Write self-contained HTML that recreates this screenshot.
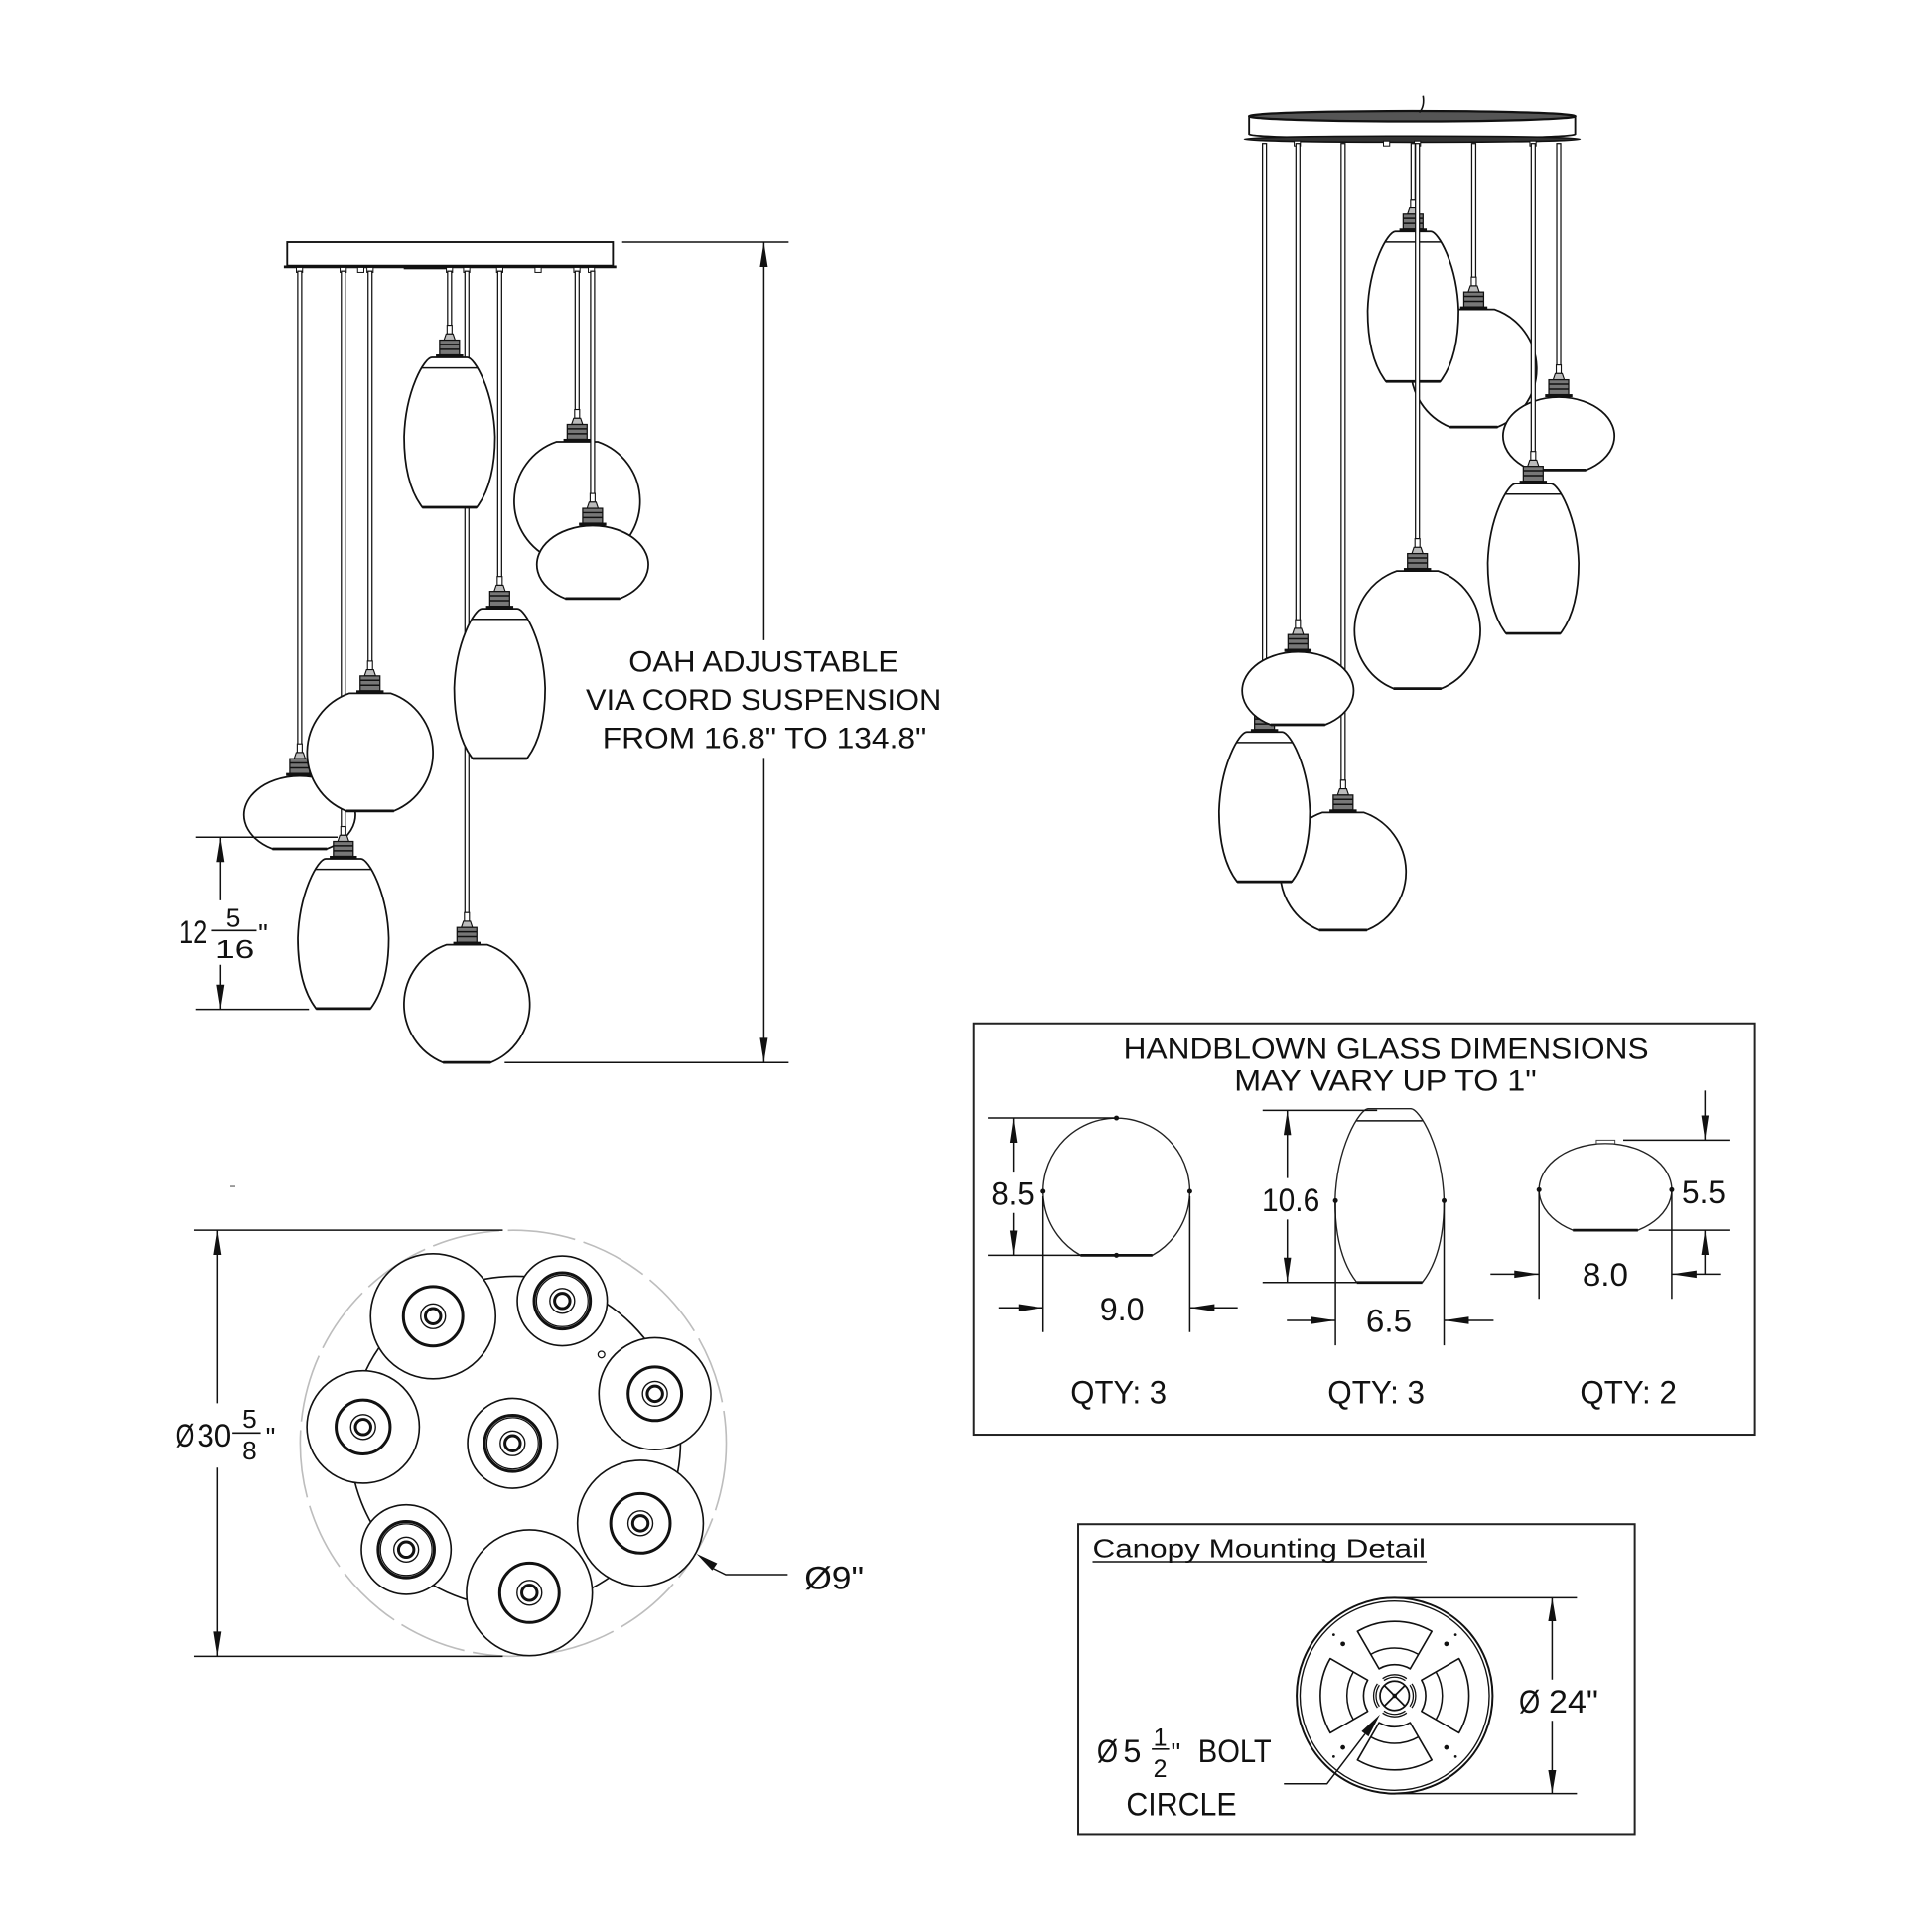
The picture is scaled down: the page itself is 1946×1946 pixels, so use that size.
<!DOCTYPE html>
<html>
<head>
<meta charset="utf-8">
<style>
html,body{margin:0;padding:0;background:#fff;}
svg{display:block;}
text{font-family:"Liberation Sans",sans-serif;fill:#111;}
.c{fill:#fff;stroke:#111;stroke-width:1;}
.l{stroke:#111;stroke-width:1.2;fill:none;}
.a{fill:#111;stroke:none;}
</style>
</head>
<body>
<svg width="1946" height="1946" viewBox="0 0 1560 1560" xmlns="http://www.w3.org/2000/svg">
<defs>
  <g id="sk">
    <rect x="-2" y="-26" width="4" height="7" fill="#fff" stroke="#111" stroke-width="0.9"/>
    <path d="M-2.8,-19 L2.8,-19 L4.5,-14 L-4.5,-14 Z" fill="#bbb" stroke="#111" stroke-width="0.9"/>
    <rect x="-8" y="-14" width="16" height="12" fill="#777" stroke="#111" stroke-width="1"/>
    <path d="M-8,-10.5 H8 M-8,-6.5 H8" stroke="#111" stroke-width="1.2"/>
    <rect x="-11" y="-2.4" width="22" height="2.4" fill="#111"/>
  </g>
  <g id="gl">
    <path d="M-16.6,-48 A50.8 50.8 0 0 0 -19.3,47 L19.3,47 A50.8 50.8 0 0 0 16.6,-48 Z" fill="#fff" stroke="#111" stroke-width="1.4"/>
    <path d="M-19.3,47 H19.3" stroke="#111" stroke-width="2.2"/>
  </g>
  <g id="ob">
    <path d="M-22,58.8 A45 31.4 0 1 1 22,58.8 Z" fill="#fff" stroke="#111" stroke-width="1.4"/>
    <path d="M-22,58.8 H22" stroke="#111" stroke-width="2.2"/>
  </g>
  <g id="br">
    <path d="M-14.3,0 L14.3,0 C20.2,0 35.6,26.6 36.7,64.1 C36.7,90.8 31.2,108.9 22,121 L-22,121 C-31.2,108.9 -36.7,90.8 -36.7,64.1 C-35.6,26.6 -20.2,0 -14.3,0 Z" fill="#fff" stroke="#111" stroke-width="1.4"/>
    <path d="M-22.7,8.5 H22.7" stroke="#111" stroke-width="1.2"/>
    <path d="M-22,121 H22" stroke="#111" stroke-width="2.2"/>
  </g>
</defs>

<!-- ================= LEFT ELEVATION ================= -->
<rect x="231.9" y="195.6" width="263" height="19" fill="#fff" stroke="#111" stroke-width="1.5"/>
<line x1="229.2" y1="215.5" x2="497.6" y2="215.5" stroke="#111" stroke-width="2.2"/>
<rect x="326" y="215.5" width="35" height="2" fill="#111"/>
<g fill="#fff" stroke="#111" stroke-width="0.8">
  <rect x="239.3" y="216" width="5" height="4"/>
  <rect x="274.6" y="216" width="5" height="4"/>
  <rect x="288.8" y="216" width="5" height="4"/>
  <rect x="296.3" y="216" width="5" height="4"/>
  <rect x="360.4" y="216" width="5" height="4"/>
  <rect x="374.3" y="216" width="5" height="4"/>
  <rect x="401" y="216" width="5" height="4"/>
  <rect x="432" y="216" width="5" height="4"/>
  <rect x="463.3" y="216" width="5" height="4"/>
  <rect x="475" y="216" width="5" height="4"/>
</g>

<!-- H globe (long) -->
<rect class="c" x="375.4" y="219" width="3.2" height="518"/>
<use href="#gl" x="377" y="810.9"/>
<use href="#sk" x="377" y="762.9"/>
<!-- A barrel -->
<rect class="c" x="361.4" y="219" width="3.2" height="44"/>
<use href="#br" x="363" y="288.6"/>
<use href="#sk" x="363" y="288.6"/>
<!-- D barrel -->
<rect class="c" x="401.9" y="219" width="3.2" height="247"/>
<use href="#br" x="403.5" y="491.5"/>
<use href="#sk" x="403.5" y="491.5"/>
<!-- B globe -->
<rect class="c" x="464.4" y="219" width="3.2" height="112"/>
<use href="#gl" x="466" y="404.7"/>
<use href="#sk" x="466" y="356.7"/>
<!-- C oblate -->
<rect class="c" x="476.9" y="219" width="3.2" height="180"/>
<use href="#ob" x="478.5" y="424.5"/>
<use href="#sk" x="478.5" y="424.5"/>
<!-- F oblate -->
<rect class="c" x="240.4" y="219" width="3.2" height="382"/>
<use href="#ob" x="242" y="626.6"/>
<use href="#sk" x="242" y="626.6"/>
<!-- G barrel -->
<rect class="c" x="275.6" y="219" width="3.2" height="449"/>
<use href="#br" x="277.2" y="693.4"/>
<use href="#sk" x="277.2" y="693.4"/>
<!-- E globe -->
<rect class="c" x="297.2" y="219" width="3.2" height="315"/>
<use href="#gl" x="298.8" y="607.8"/>
<use href="#sk" x="298.8" y="559.8"/>

<!-- 12 5/16 dimension -->
<path class="l" d="M157.7,676 H272.6 M157.7,815 H249.5 M178.2,676 V727 M178.2,779 V815"/>
<polygon class="a" points="178.2,676 175,696 181.4,696"/>
<polygon class="a" points="178.2,815 175,795 181.4,795"/>
<text x="144.3" y="761.6" font-size="26" textLength="22.7" lengthAdjust="spacingAndGlyphs">12</text>
<text x="188.4" y="748.2" font-size="21" text-anchor="middle">5</text>
<line x1="171.1" y1="751.4" x2="207.2" y2="751.4" stroke="#111" stroke-width="1.3"/>
<text x="174" y="773.6" font-size="21" textLength="31.5" lengthAdjust="spacingAndGlyphs">16</text>
<text x="208.5" y="761.6" font-size="22">"</text>

<!-- OAH dimension -->
<path class="l" d="M502.4,195.6 H636.8 M407.5,858 H636.8 M616.8,195.6 V517 M616.8,612 V858"/>
<polygon class="a" points="616.8,195.6 613.6,215.6 620,215.6"/>
<polygon class="a" points="616.8,858 613.6,838 620,838"/>
<text x="507.7" y="542.5" font-size="24" textLength="217.8" lengthAdjust="spacingAndGlyphs">OAH ADJUSTABLE</text>
<text x="473" y="573.2" font-size="24" textLength="287.2" lengthAdjust="spacingAndGlyphs">VIA CORD SUSPENSION</text>
<text x="486.4" y="603.9" font-size="24" textLength="261.8" lengthAdjust="spacingAndGlyphs">FROM 16.8" TO 134.8"</text>

<!-- ================= RIGHT PERSPECTIVE ================= -->
<path d="M1008.6,94 L1008.6,108.5 A131.7 4 0 0 0 1271.9,108.5 L1271.9,94 Z" fill="#fff" stroke="#111" stroke-width="1.5"/>
<ellipse cx="1140.3" cy="94" rx="131.7" ry="4.2" fill="#555" stroke="#111" stroke-width="1.8"/>
<ellipse cx="1140.3" cy="112.5" rx="135.5" ry="2.5" fill="#333" stroke="#111" stroke-width="1.2"/>
<path d="M1149,77.5 Q1150.5,86 1146,91" fill="none" stroke="#111" stroke-width="1.3"/>
<g fill="#fff" stroke="#111" stroke-width="0.8">
  <rect x="1045" y="114" width="5" height="4"/>
  <rect x="1117.1" y="114" width="5" height="4"/>
  <rect x="1142" y="114" width="5" height="4"/>
  <rect x="1235.3" y="114" width="5" height="4"/>
</g>

<!-- P2 globe -->
<rect class="c" x="1188.4" y="116" width="3.2" height="108"/>
<use href="#gl" x="1190" y="297.8"/>
<use href="#sk" x="1190" y="249.8"/>
<!-- P1 barrel -->
<rect class="c" x="1139.4" y="116" width="3.2" height="45"/>
<use href="#br" x="1141" y="187"/>
<use href="#sk" x="1141" y="187"/>
<!-- P3 oblate -->
<rect class="c" x="1257" y="116" width="3.2" height="179"/>
<use href="#ob" x="1258.6" y="320.7"/>
<use href="#sk" x="1258.6" y="320.7"/>
<!-- P4 barrel -->
<rect class="c" x="1236.4" y="116" width="3.2" height="249"/>
<use href="#br" x="1238" y="390.5"/>
<use href="#sk" x="1238" y="390.5"/>
<!-- P5 globe -->
<rect class="c" x="1142.9" y="116" width="3.2" height="319"/>
<use href="#gl" x="1144.5" y="509"/>
<use href="#sk" x="1144.5" y="461"/>
<!-- P8 globe -->
<rect class="c" x="1082.9" y="116" width="3.2" height="514"/>
<use href="#gl" x="1084.5" y="704"/>
<use href="#sk" x="1084.5" y="656"/>
<!-- P7 barrel -->
<rect class="c" x="1019.4" y="116" width="3.2" height="449"/>
<use href="#br" x="1021" y="591"/>
<use href="#sk" x="1021" y="591"/>
<!-- P6 oblate -->
<rect class="c" x="1046.4" y="116" width="3.2" height="385"/>
<use href="#ob" x="1048" y="526.4"/>
<use href="#sk" x="1048" y="526.4"/>

<!-- ================= PLAN VIEW ================= -->
<line x1="186" y1="958" x2="190" y2="958" stroke="#666" stroke-width="1"/>
<circle cx="414.4" cy="1165.4" r="172" fill="none" stroke="#bdbdbd" stroke-width="1.3" stroke-dasharray="55 7"/>
<circle cx="416" cy="1164" r="133.5" fill="none" stroke="#111" stroke-width="1.3"/>
<g stroke="#111" fill="#fff">
  <g transform="translate(349.7,1062.8)"><circle r="50.5" stroke-width="1.3"/><circle r="24" stroke-width="2.4"/><circle r="10" stroke-width="1.1"/><circle r="6.2" stroke-width="2.4"/></g>
  <g transform="translate(454,1050.4)"><circle r="36.3" stroke-width="1.3"/><circle r="22.7" stroke-width="2.4"/><circle r="20.8" stroke-width="1"/><circle r="10" stroke-width="1.1"/><circle r="6.2" stroke-width="2.4"/></g>
  <g transform="translate(528.8,1125.4)"><circle r="45.2" stroke-width="1.3"/><circle r="21.6" stroke-width="2.4"/><circle r="10" stroke-width="1.1"/><circle r="6.2" stroke-width="2.4"/></g>
  <g transform="translate(293.2,1152.2)"><circle r="45.4" stroke-width="1.3"/><circle r="21.8" stroke-width="2.4"/><circle r="10" stroke-width="1.1"/><circle r="6.2" stroke-width="2.4"/></g>
  <g transform="translate(413.9,1165.4)"><circle r="36.3" stroke-width="1.3"/><circle r="22.7" stroke-width="2.4"/><circle r="20.8" stroke-width="1"/><circle r="10" stroke-width="1.1"/><circle r="6.2" stroke-width="2.4"/></g>
  <g transform="translate(517.1,1230)"><circle r="50.8" stroke-width="1.3"/><circle r="24" stroke-width="2.4"/><circle r="10" stroke-width="1.1"/><circle r="6.2" stroke-width="2.4"/></g>
  <g transform="translate(328,1251.2)"><circle r="36.2" stroke-width="1.3"/><circle r="22.7" stroke-width="2.4"/><circle r="20.8" stroke-width="1"/><circle r="10" stroke-width="1.1"/><circle r="6.2" stroke-width="2.4"/></g>
  <g transform="translate(427.5,1286.1)"><circle r="50.8" stroke-width="1.3"/><circle r="24" stroke-width="2.4"/><circle r="10" stroke-width="1.1"/><circle r="6.2" stroke-width="2.4"/></g>
  <circle cx="485.6" cy="1093.7" r="2.7" stroke-width="1"/>
</g>
<!-- Ø9 leader -->
<path class="l" d="M575,1266 L586,1271.4 H636"/>
<polygon class="a" points="562.5,1254.6 579.1,1262.3 575.1,1268"/>
<text x="649.5" y="1283" font-size="26" textLength="48" lengthAdjust="spacingAndGlyphs">Ø9"</text>
<!-- Ø30 5/8 dimension -->
<path class="l" d="M156.3,993.3 H406 M156.3,1337.4 H406 M175.8,993.3 V1133 M175.8,1185 V1337.4"/>
<polygon class="a" points="175.8,993.3 172.6,1013.3 179,1013.3"/>
<polygon class="a" points="175.8,1337.4 172.6,1317.4 179,1317.4"/>
<text x="141.6" y="1167.8" font-size="26" textLength="15" lengthAdjust="spacingAndGlyphs">Ø</text>
<text x="159" y="1167.8" font-size="26" textLength="28" lengthAdjust="spacingAndGlyphs">30</text>
<text x="201.5" y="1152.9" font-size="21" text-anchor="middle">5</text>
<line x1="187.7" y1="1157" x2="210.5" y2="1157" stroke="#111" stroke-width="1.3"/>
<text x="201.5" y="1178.6" font-size="21" text-anchor="middle">8</text>
<text x="214.5" y="1167.8" font-size="22">"</text>

<!-- ================= HANDBLOWN BOX ================= -->
<rect x="786.2" y="826.3" width="630.8" height="332.1" fill="none" stroke="#222" stroke-width="1.6"/>
<text x="907.2" y="855.1" font-size="24" textLength="424" lengthAdjust="spacingAndGlyphs">HANDBLOWN GLASS DIMENSIONS</text>
<text x="996.7" y="880.5" font-size="24" textLength="244" lengthAdjust="spacingAndGlyphs">MAY VARY UP TO 1"</text>

<!-- globe 9.0 -->
<path d="M872.5,1013.6 A59.2 59.2 0 1 1 930.5,1013.6 Z" fill="none" stroke="#222" stroke-width="1.1"/>
<path d="M872.5,1013.6 H930.5" stroke="#111" stroke-width="2.2"/>
<g class="a"><circle cx="842.3" cy="962" r="2"/><circle cx="960.7" cy="962" r="2"/><circle cx="901.5" cy="902.7" r="2"/><circle cx="901.5" cy="1013.6" r="2"/></g>
<path class="l" d="M797.7,902.7 H901 M797.7,1013.6 H872.5 M818.2,902.7 V946 M818.2,979.4 V1013.6 M842.3,966 V1075.6 M960.7,966 V1075.6 M806.3,1056 H842.3 M999.4,1056 H960.7"/>
<polygon class="a" points="818.2,902.7 815.2,922.7 821.2,922.7"/>
<polygon class="a" points="818.2,1013.6 815.2,993.6 821.2,993.6"/>
<polygon class="a" points="842.3,1056 822.3,1053 822.3,1059"/>
<polygon class="a" points="960.7,1056 980.7,1053 980.7,1059"/>
<text x="800.3" y="972.7" font-size="26" textLength="34.8" lengthAdjust="spacingAndGlyphs">8.5</text>
<text x="888" y="1066.2" font-size="26" textLength="36" lengthAdjust="spacingAndGlyphs">9.0</text>
<text x="864.4" y="1133" font-size="26" textLength="77.6" lengthAdjust="spacingAndGlyphs">QTY: 3</text>

<!-- barrel 6.5 -->
<g transform="translate(1122,895.2)">
  <path d="M-17.1,0 L17.1,0 C24.2,0 42.7,30.9 44,74.4 C44,105.3 37.4,126.3 26.4,140.3 L-26.4,140.3 C-37.4,126.3 -44,105.3 -44,74.4 C-42.7,30.9 -24.2,0 -17.1,0 Z" fill="none" stroke="#222" stroke-width="1.1"/>
  <path d="M-26.6,9.8 H26.6" stroke="#111" stroke-width="1.2"/>
  <path d="M-26.4,140.3 H26.4" stroke="#111" stroke-width="2.2"/>
</g>
<g class="a"><circle cx="1078.3" cy="969.5" r="2"/><circle cx="1166" cy="969.5" r="2"/></g>
<path class="l" d="M1019.5,896.5 H1112 M1019.5,1035.5 H1100 M1039.5,896.5 V951.3 M1039.5,984.7 V1035.5 M1078.3,971 V1086.3 M1166,971 V1086.3 M1039.1,1066.2 H1078.3 M1206,1066.2 H1166"/>
<polygon class="a" points="1039.5,896.5 1036.5,916.5 1042.5,916.5"/>
<polygon class="a" points="1039.5,1035.5 1036.5,1015.5 1042.5,1015.5"/>
<polygon class="a" points="1078.3,1066.2 1058.3,1063.2 1058.3,1069.2"/>
<polygon class="a" points="1166,1066.2 1186,1063.2 1186,1069.2"/>
<text x="1018.9" y="978" font-size="26" textLength="46.7" lengthAdjust="spacingAndGlyphs">10.6</text>
<text x="1103" y="1075.6" font-size="26" textLength="37" lengthAdjust="spacingAndGlyphs">6.5</text>
<text x="1072" y="1133" font-size="26" textLength="78.4" lengthAdjust="spacingAndGlyphs">QTY: 3</text>

<!-- oblate 8.0 -->
<path d="M1270,993.3 A53.6 37.4 0 1 1 1322.6,993.3 Z" fill="none" stroke="#222" stroke-width="1.1"/>
<path d="M1270,993.3 H1322.6" stroke="#111" stroke-width="2.2"/>
<rect x="1289" y="920.6" width="15" height="2.8" fill="none" stroke="#444" stroke-width="0.8"/>
<g class="a"><circle cx="1242.7" cy="960.7" r="2"/><circle cx="1349.9" cy="960.7" r="2"/></g>
<path class="l" d="M1310.7,920.6 H1397.2 M1331.3,993.3 H1397.2 M1376.7,880.5 V920.6 M1376.7,1028.8 V993.3 M1242.7,961.5 V1048.8 M1349.9,961.5 V1048.8 M1203.5,1028.8 H1242.7 M1389,1028.8 H1349.9"/>
<polygon class="a" points="1376.7,920.6 1373.7,900.6 1379.7,900.6"/>
<polygon class="a" points="1376.7,993.3 1373.7,1013.3 1379.7,1013.3"/>
<polygon class="a" points="1242.7,1028.8 1222.7,1025.8 1222.7,1031.8"/>
<polygon class="a" points="1349.9,1028.8 1369.9,1025.8 1369.9,1031.8"/>
<text x="1358" y="971.4" font-size="26" textLength="35.2" lengthAdjust="spacingAndGlyphs">5.5</text>
<text x="1277.7" y="1038.2" font-size="26" textLength="37" lengthAdjust="spacingAndGlyphs">8.0</text>
<text x="1275.7" y="1133" font-size="26" textLength="78.2" lengthAdjust="spacingAndGlyphs">QTY: 2</text>

<!-- ================= CANOPY MOUNTING DETAIL ================= -->
<rect x="870.6" y="1230.7" width="449.4" height="250.3" fill="none" stroke="#222" stroke-width="1.6"/>
<text x="882.2" y="1257.3" font-size="21" textLength="269" lengthAdjust="spacingAndGlyphs">Canopy Mounting Detail</text>
<line x1="882.2" y1="1261" x2="1152" y2="1261" stroke="#111" stroke-width="1.2"/>

<g transform="translate(1126.1,1369.2)">
  <circle r="79.1" fill="#fff" stroke="#111" stroke-width="1.6"/>
  <circle r="76.4" fill="none" stroke="#111" stroke-width="1.1"/>
  <g id="win">
    <path d="M-30,-51.96 A60 60 0 0 1 30,-51.96 L12.55,-21.74 A25.1 25.1 0 0 0 -12.55,-21.74 Z" fill="none" stroke="#111" stroke-width="1.3" stroke-linejoin="round"/>
    <path d="M-19.25,-33.34 A38.5 38.5 0 0 1 19.25,-33.34" fill="none" stroke="#111" stroke-width="1.2"/>
  </g>
  <use href="#win" transform="rotate(90)"/>
  <use href="#win" transform="rotate(180)"/>
  <use href="#win" transform="rotate(270)"/>
  <g id="slot">
    <path d="M-9.18,-13.1 A16 16 0 0 1 9.18,-13.1" fill="none" stroke="#111" stroke-width="3"/>
    <path d="M-9.18,-13.1 A16 16 0 0 1 9.18,-13.1" fill="none" stroke="#fff" stroke-width="0.9"/>
  </g>
  <use href="#slot" transform="rotate(90)"/>
  <use href="#slot" transform="rotate(180)"/>
  <use href="#slot" transform="rotate(270)"/>
  <circle r="11.8" fill="#fff" stroke="#111" stroke-width="1.4"/>
  <path d="M-8.3,-8.3 L8.3,8.3 M-8.3,8.3 L8.3,-8.3" stroke="#111" stroke-width="1.4"/>
  <circle r="1.8" fill="#111"/>
  <g fill="#111">
    <circle cx="-41.8" cy="-41.8" r="1.9"/><circle cx="41.8" cy="-41.8" r="1.9"/>
    <circle cx="-41.8" cy="41.8" r="1.9"/><circle cx="41.8" cy="41.8" r="1.9"/>
    <circle cx="-49.2" cy="-49.2" r="1.1"/><circle cx="49.2" cy="-49.2" r="1.1"/>
    <circle cx="-49.2" cy="49.2" r="1.1"/><circle cx="49.2" cy="49.2" r="1.1"/>
  </g>
</g>
<!-- bolt circle leader -->
<path class="l" d="M1036.7,1440.4 H1071.5 L1102.2,1400.1"/>
<polygon class="a" points="1114.3,1384.2 1105,1402.2 1099.4,1398"/>
<text x="885.7" y="1423" font-size="26" textLength="17" lengthAdjust="spacingAndGlyphs">Ø</text>
<text x="907" y="1423" font-size="26">5</text>
<text x="936.8" y="1409.6" font-size="20" text-anchor="middle">1</text>
<line x1="930" y1="1412.3" x2="944" y2="1412.3" stroke="#111" stroke-width="1.3"/>
<text x="936.8" y="1435" font-size="20" text-anchor="middle">2</text>
<text x="945.5" y="1423" font-size="22">"</text>
<text x="967.4" y="1423" font-size="26" textLength="59.3" lengthAdjust="spacingAndGlyphs">BOLT</text>
<text x="909.4" y="1465.7" font-size="26" textLength="89.1" lengthAdjust="spacingAndGlyphs">CIRCLE</text>
<!-- Ø24 dimension -->
<path class="l" d="M1126,1290.1 H1273.3 M1126,1448.3 H1273.3 M1253.3,1290.1 V1356.2 M1253.3,1389.5 V1448.3"/>
<polygon class="a" points="1253.3,1290.1 1250.1,1309.1 1256.5,1309.1"/>
<polygon class="a" points="1253.3,1448.3 1250.1,1429.3 1256.5,1429.3"/>
<text x="1226.5" y="1383" font-size="26" textLength="17" lengthAdjust="spacingAndGlyphs">Ø</text>
<text x="1250.6" y="1383" font-size="26" textLength="40" lengthAdjust="spacingAndGlyphs">24"</text>
</svg>
</body>
</html>
